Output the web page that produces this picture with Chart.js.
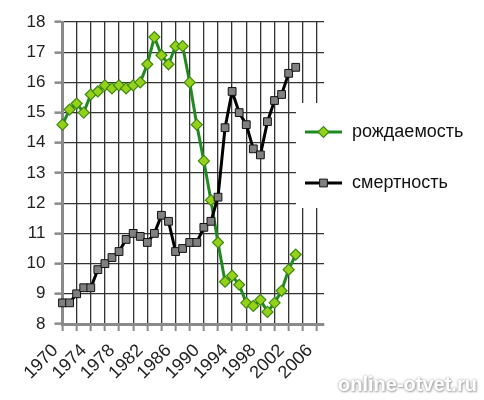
<!DOCTYPE html>
<html>
<head>
<meta charset="utf-8">
<script src="https://cdn.jsdelivr.net/npm/chart.js@4"></script>
<style>
    html, body { margin: 0; padding: 0; background: #fff; }
    #wrap { position: relative; width: 484px; height: 400px; }
    #mark {
        position: absolute; left: 338px; top: 373px;
        font: bold 20px "Liberation Sans", Arial, sans-serif;
        color: #fff; text-shadow: 0 0 3px #999, 1px 1px 2px #aaa;
    }
</style>
</head>
<body>
<div id="wrap">
    <canvas id="rateChart" width="484" height="400"></canvas>
    <div id="mark">online-otvet.ru</div>
</div>
<script>
// Years on the category axis (labels every 4 years, grid every 2)
var years = [];
for (var y = 1970; y <= 2007; y++) years.push(String(y));

// рождаемость, per 1000, 1970..2003
var birthRate = [14.6, 15.1, 15.3, 15.0, 15.6, 15.7, 15.9, 15.8, 15.9, 15.8,
                 15.9, 16.0, 16.6, 17.5, 16.9, 16.6, 17.2, 17.2, 16.0, 14.6,
                 13.4, 12.1, 10.7, 9.4, 9.6, 9.3, 8.7, 8.6, 8.8, 8.4,
                 8.7, 9.1, 9.8, 10.3];
// смертность, per 1000, 1970..2003
var deathRate = [8.7, 8.7, 9.0, 9.2, 9.2, 9.8, 10.0, 10.2, 10.4, 10.8,
                 11.0, 10.9, 10.7, 11.0, 11.6, 11.4, 10.4, 10.5, 10.7, 10.7,
                 11.2, 11.4, 12.2, 14.5, 15.7, 15.0, 14.6, 13.8, 13.6, 14.7,
                 15.4, 15.6, 16.3, 16.5];
var seriesNames = ['рождаемость', 'смертность'];

var FONT = '"Liberation Sans", Arial, sans-serif';

// Legend drawn over the plot, on a white box like the original
var legendBox = {
    id: 'legendBox',
    afterDraw(chart) {
        const ctx = chart.ctx;
        ctx.save();
        ctx.fillStyle = '#fff';
        ctx.fillRect(296, 103, 188, 105);
        const rows = [{ y: 132, ds: chart.data.datasets[0] }, { y: 183, ds: chart.data.datasets[1] }];
        rows.forEach(row => {
            const ds = row.ds;
            ctx.strokeStyle = ds.borderColor;
            ctx.lineWidth = 3;
            ctx.beginPath();
            ctx.moveTo(305, row.y);
            ctx.lineTo(342, row.y);
            ctx.stroke();
            // marker in the middle of the line sample
            ctx.fillStyle = ds.pointBackgroundColor;
            ctx.strokeStyle = ds.pointBorderColor;
            ctx.lineWidth = ds.pointBorderWidth;
            ctx.beginPath();
            if (ds.pointStyle === 'rectRot') {
                const r = ds.pointRadius;
                ctx.moveTo(323.5 - r, row.y); ctx.lineTo(323.5, row.y - r);
                ctx.lineTo(323.5 + r, row.y); ctx.lineTo(323.5, row.y + r);
            } else {
                const s = ds.pointRadius * Math.SQRT1_2;
                ctx.rect(323.5 - s, row.y - s, 2 * s, 2 * s);
            }
            ctx.closePath();
            ctx.fill();
            ctx.stroke();
            ctx.fillStyle = '#111';
            ctx.font = '18px ' + FONT;
            ctx.textBaseline = 'middle';
            ctx.textAlign = 'left';
            ctx.fillText(ds.label, 352, row.y);
        });
        ctx.restore();
    }
};

var ctx = document.getElementById('rateChart').getContext('2d');
new Chart(ctx, {
    type: 'line',
    data: {
        labels: years,
        datasets: [{
            label: seriesNames[0],
            data: birthRate,
            borderColor: '#1f8a1f',
            borderWidth: 3,
            pointStyle: 'rectRot',
            pointRadius: 5.5,
            pointBorderWidth: 1.2,
            pointBackgroundColor: '#96d11a',
            pointBorderColor: '#3c8a12',
            tension: 0,
            order: 1
        }, {
            label: seriesNames[1],
            data: deathRate,
            borderColor: '#000',
            borderWidth: 3,
            pointStyle: 'rect',
            pointRadius: 5.5,
            pointBorderWidth: 1,
            pointBackgroundColor: '#808080',
            pointBorderColor: '#111',
            tension: 0,
            order: 0
        }]
    },
    options: {
        responsive: false,
        animation: false,
        devicePixelRatio: 1,
        layout: { padding: { top: 22, right: 160, bottom: 0, left: 0 } },
        plugins: { legend: { display: false }, tooltip: { enabled: false } },
        scales: {
            x: {
                type: 'category',
                offset: false,
                border: { color: '#8a8a8a', width: 3 },
                grid: {
                    color: c => (c.index % 2 === 0 ? '#333' : 'rgba(0,0,0,0)'),
                    tickColor: c => (c.index % 2 === 0 ? '#8a8a8a' : 'rgba(0,0,0,0)'),
                    lineWidth: 1.3,
                    tickLength: 7,
                    tickWidth: 2
                },
                ticks: {
                    autoSkip: false,
                    minRotation: 45,
                    maxRotation: 45,
                    padding: 2,
                    color: '#222',
                    font: { family: FONT, size: 18 },
                    // trailing spaces push the rotated text down-left of its tick
                    callback: function(val, i) {
                        return i % 4 === 0 ? this.getLabelForValue(val) + '\u00a0\u00a0' : '';
                    }
                },
                afterFit: scale => { scale.height = 76; }
            },
            y: {
                min: 8,
                max: 18,
                border: { color: '#8a8a8a', width: 3 },
                grid: {
                    color: '#333',
                    lineWidth: 1.3,
                    tickColor: '#8a8a8a',
                    tickLength: 8,
                    tickWidth: 2.5
                },
                ticks: {
                    stepSize: 1,
                    padding: 9,
                    color: '#222',
                    font: { family: FONT, size: 17 }
                },
                afterFit: scale => { scale.width = 62.5; }
            }
        }
    },
    plugins: [legendBox]
});
</script>
</body>
</html>
